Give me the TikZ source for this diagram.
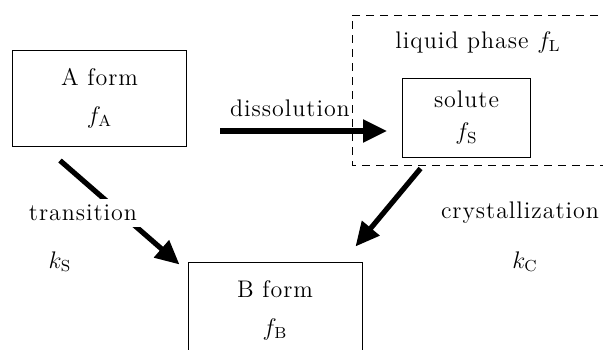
\documentclass[tikz,border=0pt]{standalone}
\usepackage{amsmath, amssymb}
\usepackage{fontspec}
\setmainfont{Latin Modern Roman}[LetterSpace=4]
\usepackage{tikz}
\usetikzlibrary{arrows.meta, positioning, calc}

\begin{document}
\begin{tikzpicture}[x=0.5pt, y=-0.5pt, >={Triangle[length=12pt, width=11pt]},
    formbox/.style={draw, line width=0.5pt, minimum width=87pt, minimum height=48pt, align=center, font=\large},
    flow/.style={->, line width=2.6pt},
    lbl/.style={font=\large, inner sep=1pt}]
  \useasboundingbox (0,0) rectangle (603,349);
  % boxes
  \node[formbox] (A) at (99.5,98) {A form\\[5pt]$f_{\mathrm{A}}$};
  \node[formbox, minimum width=64pt, minimum height=39.5pt] (sol) at (466.5,117.5) {solute\\[2pt]$f_{\mathrm{S}}$};
  \node[formbox, minimum height=48pt] (B) at (275,310) {B form\\[5pt]$f_{\mathrm{B}}$};
  \draw[line width=0.5pt, dash pattern=on 4pt off 3pt] (612,15) -- (352,15) -- (352,165) -- (612,165);
  \node[lbl] (liq) at (478,42) {liquid phase $f_{\mathrm{L}}$};
  % arrows
  \draw[flow] ([shift={(16.5pt,-16.5pt)}]A.east) -- ([shift={(-7.5pt,-6.75pt)}]sol.west);
  \draw[flow] ([shift={(-19.75pt,-7pt)}]A.south) -- ([shift={(-4pt,-1.5pt)}]B.north west);
  \draw[flow] ([shift={(-23pt,-5.5pt)}]sol.south) -- ([shift={(-3.5pt,7.5pt)}]B.north east);
  % labels
  \node[lbl] (diss) at (290,108) {dissolution};
  \node[lbl, fill=white, inner sep=3pt] (trans) at (83,213) {transition};
  \node[lbl] (ks) at (60,262) {$k_{\mathrm{S}}$};
  \node[lbl] (cryst) at (520,213) {crystallization};
  \node[lbl] (kc) at (525,262) {$k_{\mathrm{C}}$};
\end{tikzpicture}
\end{document}
